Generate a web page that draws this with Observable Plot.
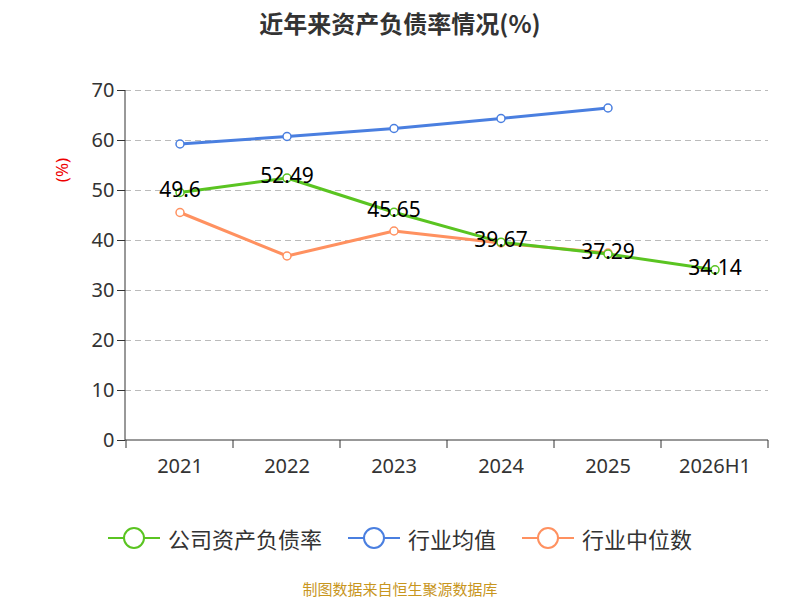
<!DOCTYPE html><html><head><meta charset="utf-8">
<script src="https://cdn.jsdelivr.net/npm/d3@7"></script>
<script src="https://cdn.jsdelivr.net/npm/@observablehq/plot@0.6"></script>
<style>body{margin:0;font-family:"Noto Sans CJK SC","Noto Sans",sans-serif;width:800px}
.t{height:45px;line-height:45px;text-align:center;font-size:24px;font-weight:bold;color:#333}
.lg{display:flex;justify-content:center;gap:26px;font-size:22px;color:#333;height:45px;align-items:center}
.lg span{display:flex;align-items:center;gap:8px}
.cap{text-align:center;color:#c8961e;font-size:15px;margin-top:18px}</style></head><body>
<div class="t">近年来资产负债率情况(%)</div><div id="c"></div>
<div class="lg" id="lg"></div><div class="cap">制图数据来自恒生聚源数据库</div>
<script>
const years=["2021","2022","2023","2024","2025","2026H1"];
const company=[49.6,52.49,45.65,39.67,37.29,34.14];
const industryAvg=[59.3,60.8,62.4,64.4,66.5];
const industryMed=[45.6,36.9,41.9,39.5,37.5];
const names=["公司资产负债率","行业均值","行业中位数"];
const colors=["#5ac421","#4a7fe0","#ff9160"];
const yTicks=[0,10,20,30,40,50,60,70];
const comp=years.map((y,i)=>({y,v:company[i]}));
const avg=industryAvg.map((v,i)=>({y:years[i],v}));
const med=industryMed.map((v,i)=>({y:years[i],v}));
const edges=(i,s,c,d)=>{const g=d3.create("svg:g");const bw=s.x.bandwidth?s.x.bandwidth():0;
 const xs=years.map(y=>s.x(y)).concat([s.x(years[years.length-1])+bw]);
 xs.forEach(x=>g.append("line").attr("x1",x).attr("x2",x).attr("y1",d.height-d.marginBottom).attr("y2",d.height-d.marginBottom+8).attr("stroke","#333"));
 g.append("line").attr("x1",d.marginLeft).attr("x2",d.width-d.marginRight).attr("y1",d.height-d.marginBottom).attr("y2",d.height-d.marginBottom).attr("stroke","#333");
 return g.node();};
const ser=(data,col)=>[Plot.line(data,{x:"y",y:"v",stroke:col,strokeWidth:3}),Plot.dot(data,{x:"y",y:"v",r:4,fill:"white",stroke:col,strokeWidth:1.5})];
const p=Plot.plot({width:800,height:470,marginTop:45,marginBottom:75,marginLeft:125,marginRight:32,
 style:{fontSize:"20px",color:"#333",fontFamily:"Noto Sans, sans-serif"},
 x:{type:"band",domain:years,padding:0,label:null,tickSize:0,tickPadding:18},
 y:{domain:[0,70],ticks:yTicks,label:null,tickSize:8,tickPadding:4},
 marks:[
  Plot.gridY(yTicks.filter(t=>t>0),{stroke:"#bbb",strokeOpacity:1,strokeDasharray:"6,4"}),
  Plot.axisY({ticks:yTicks,tickSize:8,fontSize:20}),
  Plot.axisX({tickSize:0,tickPadding:18,fontSize:20}),
  edges,
  ...ser(med,colors[2]),...ser(avg,colors[1]),...ser(comp,colors[0]),
  Plot.text(comp,{x:"y",y:"v",text:d=>String(d.v),fontSize:21,fill:"#000",dy:-2})
 ]});
d3.select(p).append("line").attr("x1",125).attr("x2",125).attr("y1",45).attr("y2",395).attr("stroke","#333");
d3.select(p).append("text").attr("transform","translate(68,125) rotate(-90)").attr("text-anchor","middle").attr("fill","#e00").attr("font-size",17).text("(%)");
document.getElementById("c").appendChild(p);
document.getElementById("lg").innerHTML=names.map((n,i)=>`<span><svg width="52" height="24"><line x1="0" x2="52" y1="12" y2="12" stroke="${colors[i]}" stroke-width="2"/><circle cx="26" cy="12" r="10" fill="white" stroke="${colors[i]}" stroke-width="2"/></svg>${n}</span>`).join("");
</script></body></html>
